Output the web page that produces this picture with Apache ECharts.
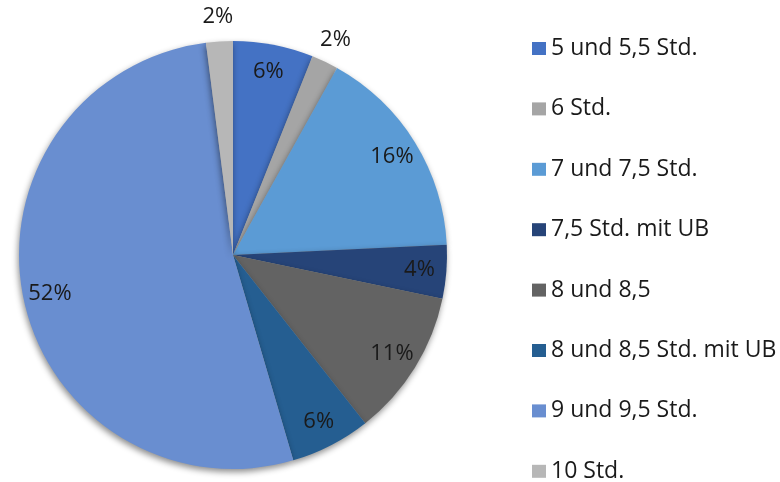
<!DOCTYPE html>
<html>
<head>
<meta charset="utf-8">
<script src="https://cdn.jsdelivr.net/npm/echarts@6/dist/echarts.min.js"></script>
<style>
  html, body { margin: 0; padding: 0; background: #fff; }
  #chart { width: 780px; height: 482px; }
</style>
</head>
<body>
<div id="chart"></div>
<script>
// Anteile je Arbeitszeit (Prozent, wie im Bild beschriftet)
var categories = ['5 und 5,5 Std.', '6 Std.', '7 und 7,5 Std.', '7,5 Std. mit UB',
                  '8 und 8,5', '8 und 8,5 Std. mit UB', '9 und 9,5 Std.', '10 Std.'];
var values = [6, 2, 16, 4, 11, 6, 52, 2];
var colors = ['#4472C4', '#A5A5A5', '#5B9BD5', '#264478',
              '#636363', '#255E91', '#698ED0', '#B7B7B7'];
// kleine Anteile stehen außerhalb des Kreises
var outsideLabel = [false, true, false, false, false, false, false, true];

(function(){
  var myChart = echarts.init(document.getElementById('chart'));
  var R = 214;
  var C = [233, 255];
  var font = '"Open Sans", sans-serif';
  var labelStyle = {
    formatter: '{c}%',
    fontSize: 22,
    color: '#1a1a1a',
    fontFamily: font
  };

  function pieData(showFn){
    return categories.map(function(name, i){
      return { name: name, value: values[i], label: { show: showFn(i) } };
    });
  }

  // unsichtbare Ringe nur für die Beschriftungen
  function labelRing(factor, showFn){
    return {
      type: 'pie',
      center: C,
      radius: [0, R * factor],
      startAngle: 90,
      clockwise: true,
      silent: true,
      data: pieData(showFn),
      itemStyle: { color: 'transparent' },
      label: Object.assign({ position: 'inside' }, labelStyle),
      labelLine: { show: false },
      emphasis: { disabled: true }
    };
  }

  var option = {
    color: colors,
    animation: false,
    legend: {
      orient: 'vertical',
      left: 527,
      top: 32,
      height: 470,
      icon: 'rect',
      itemWidth: 14,
      itemHeight: 13,
      itemGap: 37.4,
      textStyle: { fontSize: 23, color: '#1a1a1a', fontFamily: font },
      data: categories
    },
    series: [
      {
        type: 'pie',
        center: C,
        radius: [0, R],
        startAngle: 90,
        clockwise: true,
        data: pieData(function(){ return false; }),
        itemStyle: {
          shadowBlur: 6,
          shadowOffsetY: 3,
          shadowOffsetX: -1,
          shadowColor: 'rgba(0,0,0,0.45)'
        },
        label: { show: false },
        labelLine: { show: false },
        emphasis: { scale: false }
      },
      labelRing(1.72, function(i){ return !outsideLabel[i]; }),
      labelRing(2.2, function(i){ return outsideLabel[i]; })
    ]
  };
  myChart.setOption(option);
})();
</script>
</body>
</html>
